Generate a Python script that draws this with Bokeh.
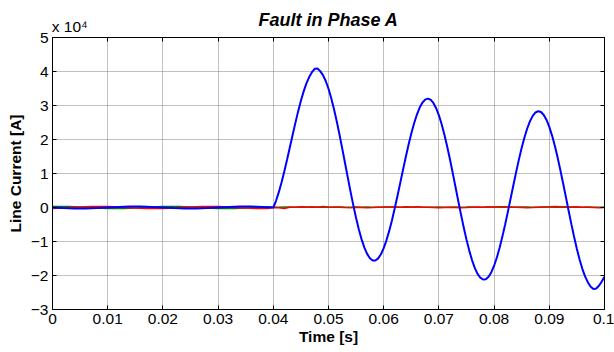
from bokeh.plotting import figure
from bokeh.models import LinearAxis, FixedTicker
from bokeh.embed import file_html
from bokeh.resources import INLINE

# time grids in milliseconds
t_pre_ms = list(range(0, 40))                       # 1 ms sampling before the fault
t_post_ms = [40 + 0.5 * k for k in range(121)]      # 0.5 ms sampling after the fault
time_ms = list(range(0, 101))                       # phases B, C

# Line currents in units of 1e4 A
ia_pre = [0.000, -0.009, -0.018, -0.024, -0.029, -0.030, -0.029, -0.024, -0.018, -0.009,
          0.000, 0.009, 0.018, 0.024, 0.029, 0.030, 0.029, 0.024, 0.018, 0.009,
          0.000, -0.009, -0.018, -0.024, -0.029, -0.030, -0.029, -0.024, -0.018, -0.009,
          0.000, 0.009, 0.018, 0.024, 0.029, 0.030, 0.029, 0.024, 0.018, 0.009]
ia_post = [0.000, 0.198, 0.451, 0.744, 1.068, 1.414, 1.773, 2.135, 2.489, 2.827,
           3.138, 3.416, 3.650, 3.837, 3.980, 4.080, 4.090, 4.010, 3.892, 3.721,
           3.493, 3.215, 2.891, 2.530, 2.138, 1.725, 1.302, 0.877, 0.461, 0.062,
           -0.309, -0.645, -0.937, -1.179, -1.365, -1.492, -1.557, -1.559, -1.497, -1.375,
           -1.196, -0.965, -0.688, -0.372, -0.024, 0.344, 0.725, 1.109, 1.484, 1.843,
           2.174, 2.472, 2.726, 2.931, 3.081, 3.173, 3.203, 3.170, 3.076, 2.921,
           2.711, 2.448, 2.140, 1.794, 1.418, 1.020, 0.611, 0.200, -0.202, -0.587,
           -0.945, -1.268, -1.546, -1.776, -1.950, -2.065, -2.118, -2.108, -2.036, -1.902,
           -1.712, -1.471, -1.182, -0.856, -0.499, -0.121, 0.270, 0.663, 1.047, 1.415,
           1.755, 2.061, 2.324, 2.538, 2.695, 2.795, 2.833, 2.808, 2.722, 2.574,
           2.370, 2.115, 1.814, 1.475, 1.105, 0.714, 0.311, -0.094, -0.490, -0.869,
           -1.221, -1.538, -1.811, -2.035, -2.204, -2.330, -2.400, -2.380, -2.300, -2.180,
           -2.040]

ib_pre = [0.026, 0.029, 0.030, 0.027, 0.022, 0.015, 0.006, -0.003, -0.012, -0.020,
          -0.026, -0.029, -0.030, -0.027, -0.022, -0.015, -0.006, 0.003, 0.012, 0.020,
          0.026, 0.029, 0.030, 0.027, 0.022, 0.015, 0.006, -0.003, -0.012, -0.020,
          -0.026, -0.029, -0.030, -0.027, -0.022, -0.015, -0.006, 0.003, 0.012, 0.020]
ib_post = [0.010, 0.005, 0.015, 0.012, 0.008, 0.018, 0.010, 0.006, 0.014, 0.011,
           0.008, 0.012, 0.016, 0.010, 0.006, 0.012, 0.009, 0.014, 0.010, 0.007,
           0.012, 0.015, 0.010, 0.008, 0.013, 0.011, 0.016, 0.012, 0.009, 0.010,
           0.014, 0.008, 0.011, 0.013, 0.009, 0.012, 0.016, 0.010, 0.008, 0.012,
           0.015, 0.011, 0.009, 0.013, 0.010, 0.014, 0.012, 0.008, 0.011, 0.015,
           0.012, 0.009, 0.013, 0.010, 0.014, 0.011, 0.008, 0.012, 0.010, 0.009,
           0.011]

ic_pre = [-0.026, -0.020, -0.012, -0.003, 0.006, 0.015, 0.022, 0.027, 0.030, 0.029,
          0.026, 0.020, 0.012, 0.003, -0.006, -0.015, -0.022, -0.027, -0.030, -0.029,
          -0.026, -0.020, -0.012, -0.003, 0.006, 0.015, 0.022, 0.027, 0.030, 0.029,
          0.026, 0.020, 0.012, 0.003, -0.006, -0.015, -0.022, -0.027, -0.030, -0.029]
ic_post = [0.000, -0.010, -0.030, 0.005, 0.010, 0.020, 0.015, 0.025, 0.010, 0.030,
           0.015, 0.005, 0.010, 0.000, -0.005, 0.005, 0.000, -0.005, 0.000, 0.010,
           0.005, 0.015, 0.020, 0.010, 0.025, 0.015, 0.020, 0.010, 0.005, 0.000,
           -0.005, 0.000, 0.005, 0.000, -0.005, 0.000, 0.010, 0.015, 0.010, 0.020,
           0.015, 0.025, 0.020, 0.010, 0.005, 0.000, -0.005, 0.000, 0.010, 0.015,
           0.020, 0.030, 0.020, 0.025, 0.015, 0.020, 0.010, 0.005, 0.000, -0.005,
           0.000]

x_ticks = [0.0, 0.01, 0.02, 0.03, 0.04, 0.05, 0.06, 0.07, 0.08, 0.09, 0.1]
x_tick_labels = ["0", "0.01", "0.02", "0.03", "0.04", "0.05", "0.06", "0.07", "0.08", "0.09", "0.1"]
y_ticks = [-3, -2, -1, 0, 1, 2, 3, 4, 5]
title_text = "Fault in Phase A"
multiplier_text = "x 10\u2074"

ta_s = [t / 1000.0 for t in t_pre_ms + t_post_ms]
ia = ia_pre + ia_post
t_s = [t / 1000.0 for t in time_ms]
ib = ib_pre + ib_post
ic = ic_pre + ic_post

FONT = "Liberation Sans"

p = figure(width=614, height=352, output_backend="svg", toolbar_location=None,
           x_range=(0, 0.1), y_range=(-3, 5),
           min_border_left=52, min_border_right=10, min_border_top=37, min_border_bottom=43)
p.background_fill_color = "white"
p.border_fill_color = "white"
p.outline_line_color = "black"
p.outline_line_width = 1

p.line(t_s, ib, line_color="#008000", line_width=1.5)
p.line(t_s, ic, line_color="#ff0000", line_width=1.5)
p.line(ta_s, ia, line_color="#0000ff", line_width=2)

xt = FixedTicker(ticks=x_ticks)
yt = FixedTicker(ticks=y_ticks)

for ax in p.xaxis:
    ax.ticker = xt
    ax.major_label_overrides = {v: s for v, s in zip(x_ticks, x_tick_labels)}
    ax.axis_label = "Time [s]"
    ax.axis_label_standoff = 1
for ax in p.yaxis:
    ax.ticker = yt
    ax.axis_label = "Line Current [A]"
    ax.axis_label_standoff = 4

for ax in list(p.xaxis) + list(p.yaxis):
    ax.major_tick_in = 4
    ax.major_tick_out = 0
    ax.minor_tick_line_color = None
    ax.axis_line_color = "black"
    ax.major_tick_line_color = "black"
    ax.major_label_text_font = FONT
    ax.major_label_text_font_size = "15.5px"
    ax.major_label_text_color = "black"
    ax.major_label_standoff = 4
    ax.axis_label_text_font = FONT
    ax.axis_label_text_font_size = "15.5px"
    ax.axis_label_text_font_style = "bold"
    ax.axis_label_text_color = "black"

# top axis: carries the y multiplier (as the label of the first tick) and the title
# leading no-break spaces push the centred tick label so that it starts at the y axis
top_overrides = {v: "" for v in x_ticks}
top_overrides[0.0] = "\u00a0" * 8 + multiplier_text
top = LinearAxis(ticker=FixedTicker(ticks=x_ticks), major_tick_in=4, major_tick_out=0,
                 minor_tick_line_color=None, axis_line_color="black",
                 major_label_overrides=top_overrides, major_label_standoff=3,
                 major_label_text_font=FONT,
                 major_label_text_font_size="15.5px", major_label_text_color="black",
                 axis_label=title_text, axis_label_standoff=-15,
                 axis_label_text_font=FONT, axis_label_text_font_size="18px",
                 axis_label_text_font_style="bold italic", axis_label_text_color="black")
right = LinearAxis(ticker=FixedTicker(ticks=y_ticks), major_tick_in=4, major_tick_out=0,
                   minor_tick_line_color=None, axis_line_color="black",
                   major_label_overrides={v: "" for v in y_ticks}, major_label_standoff=0)
p.add_layout(top, "above")
p.add_layout(right, "right")

p.xgrid.ticker = xt
p.ygrid.ticker = yt
for g in (p.xgrid, p.ygrid):
    g.grid_line_color = "#808080"
    g.grid_line_dash = "1 1"
    g.grid_line_width = 1

open("out.html", "w").write(file_html(p, INLINE))
